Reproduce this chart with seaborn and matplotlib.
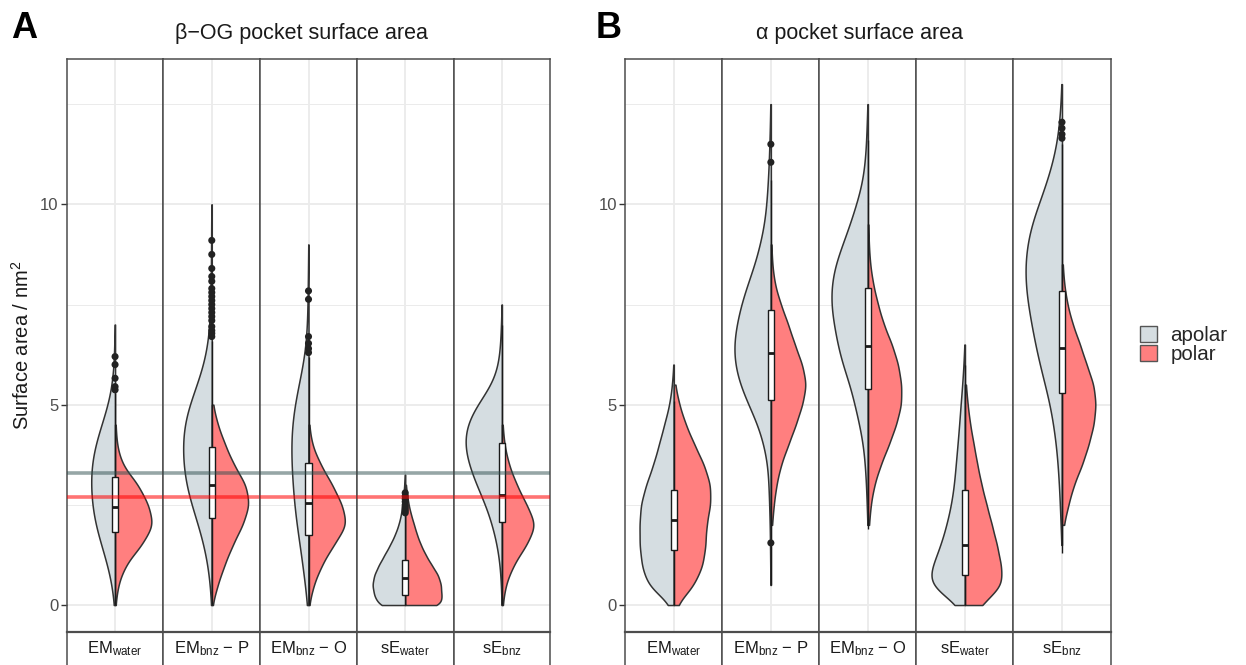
import numpy as np
import pandas as pd
import matplotlib
matplotlib.use("Agg")
import matplotlib.pyplot as plt
from matplotlib.patches import Patch
import seaborn as sns

# ---------------------------------------------------------------- data
FACET_LABELS = [r"EM$_{\mathregular{water}}$", r"EM$_{\mathregular{bnz}}$ − P",
                r"EM$_{\mathregular{bnz}}$ − O", r"sE$_{\mathregular{water}}$",
                r"sE$_{\mathregular{bnz}}$"]
CLASSES = ["apolar", "polar"]
PANEL_TITLES = ["β−OG pocket surface area", "α pocket surface area"]
PANEL_TAGS = ["A", "B"]
Y_TICKS = [0, 5, 10]

# surface-area levels (nm^2) at which violin half-widths were read
LEVELS = [0.0, 0.5, 1.0, 1.5, 2.0, 2.5, 3.0, 3.5, 4.0, 4.5, 5.0, 5.5, 6.0, 6.5,
          7.0, 7.5, 8.0, 8.5, 9.0, 9.5, 10.0, 10.5, 11.0, 11.5, 12.0, 12.5, 13.0]
LEVELS_FINE = [0.0, 0.25, 0.5, 0.75, 1.0, 1.25, 1.5, 1.75, 2.0, 2.25, 2.5,
               2.75, 3.0, 3.25, 3.5]

# Panel A (beta-OG pocket): violin half-widths (px) read at each level
A_EMW_APOLAR = [0.5, 2.5, 7, 13, 19, 22, 23, 23, 19, 13, 6, 2.5, 1, 0.6, 0.4]
A_EMW_POLAR = [0.3, 2.5, 9, 24, 35, 30, 21, 6, 1.5, 0.5]
A_EMBP_APOLAR = [0.3, 1.5, 3.5, 7, 12, 18, 23, 25.5, 26, 25, 20, 13, 7, 3.5,
                 1.8, 1.2, 1.0, 0.8, 0.6, 0.5, 0.3]
A_EMBP_POLAR = [0.3, 5, 11, 18, 27, 33, 30, 19, 11.5, 5, 0.8]
A_EMBO_APOLAR = [0.5, 3.5, 5.5, 8, 11.5, 13.5, 15, 16, 17, 16, 13.5, 9.5, 4.5,
                 1.8, 1.2, 0.9, 0.6, 0.4, 0.3]
A_EMBO_POLAR = [0.3, 4.5, 12, 23, 36, 31, 22, 11, 3, 0.5]
A_SEW_APOLAR = [29, 33, 35, 33, 28, 22, 16, 11, 7, 4.5, 3, 2, 1, 0.5]   # fine levels
A_SEW_POLAR = [39, 37, 37, 34, 27, 21, 16, 12, 9, 6, 3.5, 1.8, 0.6]     # fine levels
A_SEB_APOLAR = [0.3, 0.8, 1.8, 4.5, 9, 15, 24, 31, 36, 34, 24, 8, 3, 1.5, 0.8, 0.3]
A_SEB_POLAR = [0.5, 3, 10, 22, 31, 22, 13, 6, 2, 0.5]

# box summaries [lower whisker, Q1, median, Q3, upper whisker]
A_EMW_BOX = [0.0, 1.83, 2.45, 3.2, 5.3]
A_EMBP_BOX = [0.0, 2.17, 3.0, 3.95, 6.6]
A_EMBO_BOX = [0.0, 1.75, 2.54, 3.54, 6.2]
A_SEW_BOX = [0.0, 0.25, 0.67, 1.12, 2.25]
A_SEB_BOX = [0.0, 2.07, 2.75, 4.05, 7.0]

A_EMW_OUT = [6.2, 6.0, 5.66, 5.45, 5.37]
A_EMBP_OUT = [9.1, 8.75, 8.4, 8.2, 8.08, 7.9, 7.8, 7.7, 7.6, 7.5, 7.4, 7.3, 7.2,
              7.1, 6.95, 6.85, 6.78, 6.7]
A_EMBO_OUT = [7.84, 7.63, 6.7, 6.53, 6.4, 6.3]
A_SEW_OUT = [2.8, 2.72, 2.65, 2.58, 2.5, 2.45, 2.4, 2.35, 2.3]
A_SEB_OUT = []

# reference lines in panel A
A_REF_APOLAR = 3.30
A_REF_POLAR = 2.69

# Panel B (alpha pocket)
B_EMW_APOLAR = [2, 25, 30, 32, 32, 31, 26, 19, 14, 9, 4, 1.6, 0.4]
B_EMW_POLAR = [2.2, 19, 27, 29.5, 30, 34, 34, 28, 19, 11, 5, 1]
B_EMBP_APOLAR = [0, 0.3, 0.5, 0.8, 1.0, 1.5, 2.2, 3, 6.5, 12, 21, 29, 34, 35, 32,
                 28, 22, 15, 10, 6, 4, 3, 2, 1.3, 0.8, 0.5]
B_EMBP_POLAR = [0, 0, 0, 0, 1, 2.5, 5, 9, 16, 23, 29, 33, 29, 22, 16, 9, 3.5,
                1.2, 0.4]
B_EMBO_APOLAR = [0, 0, 0, 0, 0.5, 1, 1.6, 2.8, 4.5, 8, 12.5, 17, 24, 28.5, 32,
                 35, 34.5, 31, 24, 17, 11, 5.5, 3, 1.8, 1, 0.4]
B_EMBO_POLAR = [0, 0, 0, 0, 1, 2.5, 6, 12, 20, 27, 32, 32, 29, 23, 15, 9.5, 5,
                2, 0.8, 0.3]
B_SEW_APOLAR = [3.5, 34, 28, 21, 16, 12, 9.5, 8, 6.5, 5, 3.8, 2.3, 1.2, 0.4]
B_SEW_POLAR = [16, 37, 35, 31, 26, 21, 16, 12, 8.5, 5, 2.5, 0.8]
B_SEB_APOLAR = [0, 0, 0, 0.6, 1.3, 2, 2.8, 4, 5.5, 8, 11, 16, 21, 25, 28.5, 32,
                34.5, 35, 33, 29, 22, 15, 9, 5, 2.5, 1.2, 0.4]
B_SEB_POLAR = [0, 0, 0, 0, 1.5, 6, 11, 19, 25, 30, 32, 30, 23, 17, 10, 5, 2, 0.6]

B_EMW_BOX = [0.0, 1.37, 2.12, 2.87, 5.1]
B_EMBP_BOX = [0.5, 5.12, 6.29, 7.36, 10.6]
B_EMBO_BOX = [1.9, 5.4, 6.46, 7.9, 11.6]
B_SEW_BOX = [0.0, 0.75, 1.5, 2.87, 6.0]
B_SEB_BOX = [1.3, 5.3, 6.41, 7.84, 11.5]

B_EMW_OUT = []
B_EMBP_OUT = [11.5, 11.05, 1.55]
B_EMBO_OUT = []
B_SEW_OUT = []
B_SEB_OUT = [12.05, 11.9, 11.75, 11.65]

# ---------------------------------------------------------------- style
PALETTE = {"apolar": "#D5DDE1", "polar": "#FF7F7F"}
EDGE = "#333333"
GRID = "#EBEBEB"
BORDER = "#4D4D4D"

sns.set_theme(style="white")
plt.rcParams["font.family"] = ["Liberation Sans", "DejaVu Sans"]
plt.rcParams["mathtext.fontset"] = "custom"
plt.rcParams["mathtext.rm"] = "Liberation Sans"
plt.rcParams["mathtext.it"] = "Liberation Sans:italic"
plt.rcParams["mathtext.bf"] = "Liberation Sans:bold"

W, H = 1246, 665
fig = plt.figure(figsize=(W / 100, H / 100), dpi=100)
fig.patch.set_facecolor("white")

Y_TOP, Y_BOT, STRIP_BOT = 59.3, 631.7, 672.0
YLIM = (-0.666, 13.62)
PANEL_X = [(66.7, 550.3), (625.3, 1110.5)]
TITLE_X = [301, 860]


def px_axes(x0, y0, x1, y1):
    return fig.add_axes([x0 / W, 1 - y1 / H, (x1 - x0) / W, (y1 - y0) / H])


def profile_values(widths, levels):
    # pseudo-observations: shape follows the read widths, and the number of
    # observations follows the peak width (so density_norm="count" keeps the
    # relative widths of the two halves as read)
    w = np.asarray(widths, float)
    counts = np.rint(w / w.sum() * w.max() * 40).astype(int)
    return np.repeat(np.asarray(levels[: len(widths)], float), counts)


def draw_facet(ax, apolar, polar, levels, box, outliers, sigma):
    va = profile_values(apolar, levels)
    vp = profile_values(polar, levels)
    df = pd.DataFrame({
        "facet": "f",
        "value": np.concatenate([va, vp]),
        "type": ["apolar"] * len(va) + ["polar"] * len(vp),
    })
    bw = sigma / min(va.std(), vp.std())
    sns.violinplot(data=df, x="facet", y="value", hue="type", hue_order=CLASSES,
                   split=True, inner=None, cut=0, density_norm="count",
                   common_norm=True, width=0.9, palette=PALETTE, saturation=1,
                   linecolor=EDGE, linewidth=1.1, bw_method=bw, gridsize=400,
                   legend=False, ax=ax)
    bdf = pd.DataFrame({"facet": "f", "value": box})
    sns.boxplot(data=bdf, x="facet", y="value", width=0.08, color="white",
                linecolor="#1A1A1A", linewidth=1.0, showfliers=False,
                showcaps=False, saturation=1, whis=10,
                medianprops=dict(linewidth=2.0, color="#1A1A1A"), ax=ax)
    if len(outliers):
        sns.scatterplot(x=np.zeros(len(outliers)), y=outliers, color="#222222",
                        s=26, edgecolor="none", ax=ax, zorder=6, legend=False)


panels = [
    [(A_EMW_APOLAR, A_EMW_POLAR, LEVELS, A_EMW_BOX, A_EMW_OUT, 0.3),
     (A_EMBP_APOLAR, A_EMBP_POLAR, LEVELS, A_EMBP_BOX, A_EMBP_OUT, 0.3),
     (A_EMBO_APOLAR, A_EMBO_POLAR, LEVELS, A_EMBO_BOX, A_EMBO_OUT, 0.3),
     (A_SEW_APOLAR, A_SEW_POLAR, LEVELS_FINE, A_SEW_BOX, A_SEW_OUT, 0.15),
     (A_SEB_APOLAR, A_SEB_POLAR, LEVELS, A_SEB_BOX, A_SEB_OUT, 0.3)],
    [(B_EMW_APOLAR, B_EMW_POLAR, LEVELS, B_EMW_BOX, B_EMW_OUT, 0.3),
     (B_EMBP_APOLAR, B_EMBP_POLAR, LEVELS, B_EMBP_BOX, B_EMBP_OUT, 0.3),
     (B_EMBO_APOLAR, B_EMBO_POLAR, LEVELS, B_EMBO_BOX, B_EMBO_OUT, 0.3),
     (B_SEW_APOLAR, B_SEW_POLAR, LEVELS, B_SEW_BOX, B_SEW_OUT, 0.3),
     (B_SEB_APOLAR, B_SEB_POLAR, LEVELS, B_SEB_BOX, B_SEB_OUT, 0.3)],
]

for p, (facets, (px0, px1)) in enumerate(zip(panels, PANEL_X)):
    fw = (px1 - px0) / len(facets)
    for i, spec in enumerate(facets):
        x0, x1 = px0 + i * fw, px0 + (i + 1) * fw
        ax = px_axes(x0, Y_TOP, x1, Y_BOT)
        draw_facet(ax, *spec)
        if p == 0:
            ax.axhline(A_REF_APOLAR, color="#2F4F4F", alpha=0.5, lw=2.6, zorder=7)
            ax.axhline(A_REF_POLAR, color="#FF0000", alpha=0.55, lw=2.6, zorder=7)
        ax.set_xlim(-0.6, 0.6)
        ax.set_ylim(*YLIM)
        ax.set_xlabel("")
        ax.set_ylabel("")
        ax.set_xticks([0])
        ax.set_yticks(Y_TICKS)
        ax.set_yticks([2.5, 7.5, 12.5], minor=True)
        ax.grid(which="major", color=GRID, lw=1.3)
        ax.grid(which="minor", axis="y", color=GRID, lw=0.7)
        ax.set_axisbelow(True)
        ax.tick_params(axis="x", length=0, labelbottom=False)
        if i == 0:
            ax.tick_params(axis="y", which="major", length=4, width=1.0,
                           color="#333333", labelsize=12, labelcolor="#4D4D4D",
                           pad=2, left=True)
            ax.tick_params(axis="y", which="minor", length=0)
        else:
            ax.tick_params(axis="y", which="both", length=0, labelleft=False)
        for s in ax.spines.values():
            s.set_color(BORDER)
            s.set_linewidth(1.1)
        # strip below the facet
        sx = px_axes(x0, Y_BOT, x1, STRIP_BOT)
        sx.set_xticks([])
        sx.set_yticks([])
        sx.set_facecolor("white")
        for s in sx.spines.values():
            s.set_color(BORDER)
            s.set_linewidth(1.1)
        sx.spines["top"].set_linewidth(1.6)
        sx.text(0.5, (STRIP_BOT - 649) / (STRIP_BOT - Y_BOT), FACET_LABELS[i],
                ha="center", va="center", fontsize=12, color="#1A1A1A",
                transform=sx.transAxes)
    fig.text(TITLE_X[p] / W, 1 - 34 / H, PANEL_TITLES[p], ha="center",
             va="center", fontsize=15.5, color="#1A1A1A")

fig.text(11 / W, 1 - 28 / H, PANEL_TAGS[0], ha="left", va="center",
         fontsize=26, fontweight="bold", color="black")
fig.text(596 / W, 1 - 28 / H, PANEL_TAGS[1], ha="left", va="center",
         fontsize=26, fontweight="bold", color="black")
fig.text(22 / W, 1 - 345.5 / H, r"Surface area / nm$^{2}$", rotation=90,
         ha="center", va="center", fontsize=14.5, color="#1A1A1A")

handles = [Patch(facecolor=PALETTE[c], edgecolor="#555555", linewidth=1.0, label=c)
           for c in CLASSES]
fig.legend(handles=handles, loc="center left",
           bbox_to_anchor=(1140 / W, 1 - 345 / H), frameon=False, fontsize=14.8,
           handlelength=0.83, handleheight=0.85, labelspacing=0.0,
           handletextpad=0.65, borderpad=0, borderaxespad=0)

fig.savefig("out.png", dpi=100, facecolor="white")
